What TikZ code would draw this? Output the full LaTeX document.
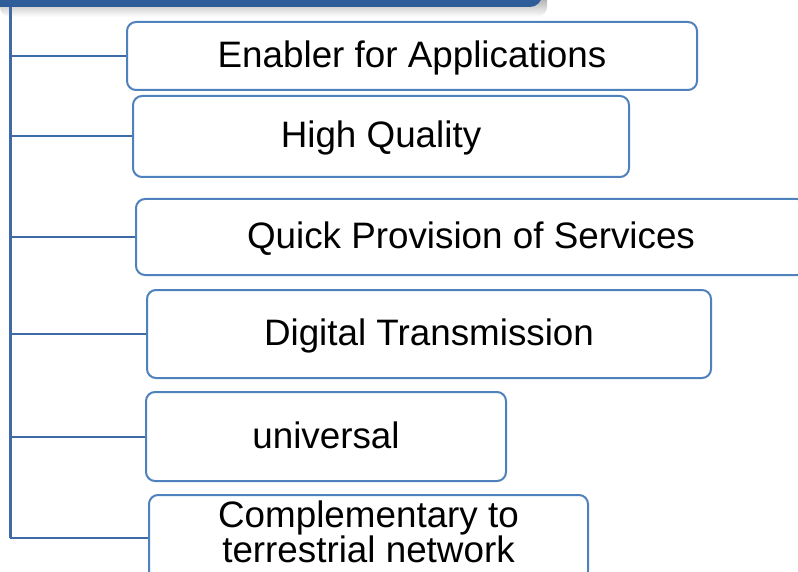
\documentclass[tikz,border=0pt]{standalone}
\usepackage{fontspec}
\setmainfont{Liberation Sans}
\definecolor{barblue}{RGB}{46,93,153}
\definecolor{boxblue}{RGB}{79,129,189}
\definecolor{trunkblue}{RGB}{62,106,168}
\tikzset{
  featbox/.style={draw=boxblue, line width=2pt, rounded corners=9pt, fill=white,
    inner sep=0pt, align=center, font=\fontsize{36.8}{35}\selectfont},
  oneline/.style={featbox, text height=30pt, text depth=7pt},
  branch/.style={draw=trunkblue, line width=2pt},
}

\begin{document}
\begin{tikzpicture}[x=1pt, y=-1pt]
  % Page
  \useasboundingbox (0,0) rectangle (798,572);
  \clip (0,0) rectangle (798,572);

  % Title bar, cut off at the top
  \shade[top color=black!45, bottom color=white, rounded corners=10pt] (0,-10) rectangle (547,17);
  \node[fill=barblue, rounded corners=12pt, minimum width=582pt, minimum height=47pt, inner sep=0pt] (title) at (251,-16.5) {};
  \path (10,7) coordinate (top);

  % Boxes
  \node[oneline, minimum width=570pt, minimum height=68pt] (enabler) at (412,56) {Enabler for Applications};
  \node[oneline, minimum width=496pt, minimum height=81pt] (quality) at (381,136.5) {High Quality};
  \node[oneline, minimum width=670pt, minimum height=76pt] (provision) at (471,237) {Quick Provision of Services};
  \node[oneline, minimum width=564pt, minimum height=88pt] (digital) at (429,334) {Digital Transmission};
  \node[oneline, minimum width=360pt, minimum height=89pt] (universal) at (326,436.5) {universal};
  \node[featbox, text depth=12pt, minimum width=439pt, minimum height=85pt] (terrestrial) at (368.5,537.5) {Complementary to\\terrestrial network};

  % Trunk
  \draw[trunkblue, line width=3pt] (top) -- (top |- terrestrial.west);
  % Branches
  \draw[branch] (top |- enabler.west) -- (enabler.west);
  \draw[branch] (top |- quality.west) -- (quality.west);
  \draw[branch] (top |- provision.west) -- (provision.west);
  \draw[branch] (top |- digital.west) -- (digital.west);
  \draw[branch] (top |- universal.west) -- (universal.west);
  \draw[branch] (top |- terrestrial.west) -- (terrestrial.west);
\end{tikzpicture}
\end{document}
